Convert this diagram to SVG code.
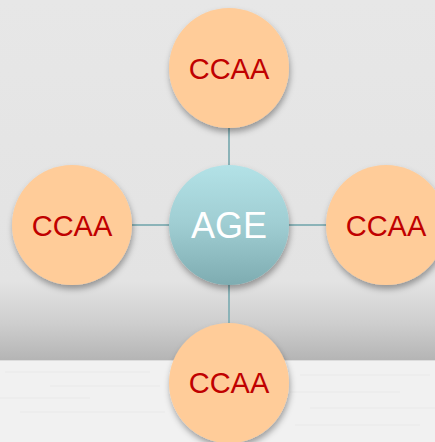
<svg xmlns="http://www.w3.org/2000/svg" width="435" height="442" viewBox="0 0 435 442">
  <defs>
    <linearGradient id="bg" x1="0" y1="0" x2="0" y2="1">
      <stop offset="0" stop-color="#e7e7e7"/>
      <stop offset="0.78" stop-color="#e3e3e3"/>
      <stop offset="0.9" stop-color="#cdcdcd"/>
      <stop offset="1" stop-color="#b4b4b4"/>
    </linearGradient>
    <linearGradient id="hub" x1="0" y1="0" x2="0" y2="1">
      <stop offset="0" stop-color="#b3e2e7"/>
      <stop offset="0.5" stop-color="#9fcdd2"/>
      <stop offset="1" stop-color="#7eacb1"/>
    </linearGradient>
    <filter id="sh" x="-30%" y="-30%" width="160%" height="170%">
      <feDropShadow dx="1" dy="4" stdDeviation="3" flood-color="#000" flood-opacity="0.35"/>
    </filter>
  </defs>
  <style>
    .sat { fill: #ffcc99; filter: url(#sh); }
    .lbl { font-family: "Liberation Sans", Arial, sans-serif; font-size: 29px; fill: #c00000; text-anchor: middle; }
    .conn line { stroke: #8bb3b8; stroke-width: 2; }
  </style>
  <rect x="0" y="0" width="435" height="361" fill="url(#bg)"/>
  <rect x="0" y="360" width="435" height="82" fill="#f1f1f1"/>
  <line x1="0" y1="360.5" x2="435" y2="360.5" stroke="#dcdcdc" stroke-width="1"/>
  <g stroke="#e6e6e6" stroke-width="1" opacity="0.8">
    <line x1="5" y1="372" x2="150" y2="372"/>
    <line x1="50" y1="386" x2="160" y2="386"/>
    <line x1="0" y1="398" x2="90" y2="398"/>
    <line x1="20" y1="412" x2="165" y2="412"/>
    <line x1="300" y1="375" x2="430" y2="375"/>
    <line x1="290" y1="392" x2="400" y2="392"/>
    <line x1="310" y1="408" x2="435" y2="408"/>
    <line x1="295" y1="425" x2="420" y2="425"/>
  </g>
  <g id="connectors" class="conn">
    <line x1="229" y1="128" x2="229" y2="166"/>
    <line x1="229" y1="284" x2="229" y2="324"/>
    <line x1="132" y1="225" x2="170" y2="225"/>
    <line x1="288" y1="225" x2="327" y2="225"/>
  </g>
  <g id="hub-age">
    <circle cx="229" cy="225" r="60" fill="url(#hub)" filter="url(#sh)"/>
    <text x="229" y="238" font-family="Liberation Sans, Arial, sans-serif" font-size="36" fill="#ffffff" text-anchor="middle">AGE</text>
  </g>
  <g id="node-top">
    <circle class="sat" cx="229" cy="68" r="60"/>
    <text class="lbl" x="229" y="79">CCAA</text>
  </g>
  <g id="node-left">
    <circle class="sat" cx="72" cy="225" r="60"/>
    <text class="lbl" x="72" y="236">CCAA</text>
  </g>
  <g id="node-right">
    <circle class="sat" cx="386" cy="225" r="60"/>
    <text class="lbl" x="386" y="236">CCAA</text>
  </g>
  <g id="node-bottom">
    <circle class="sat" cx="229" cy="383" r="60"/>
    <text class="lbl" x="229" y="393">CCAA</text>
  </g>
</svg>
